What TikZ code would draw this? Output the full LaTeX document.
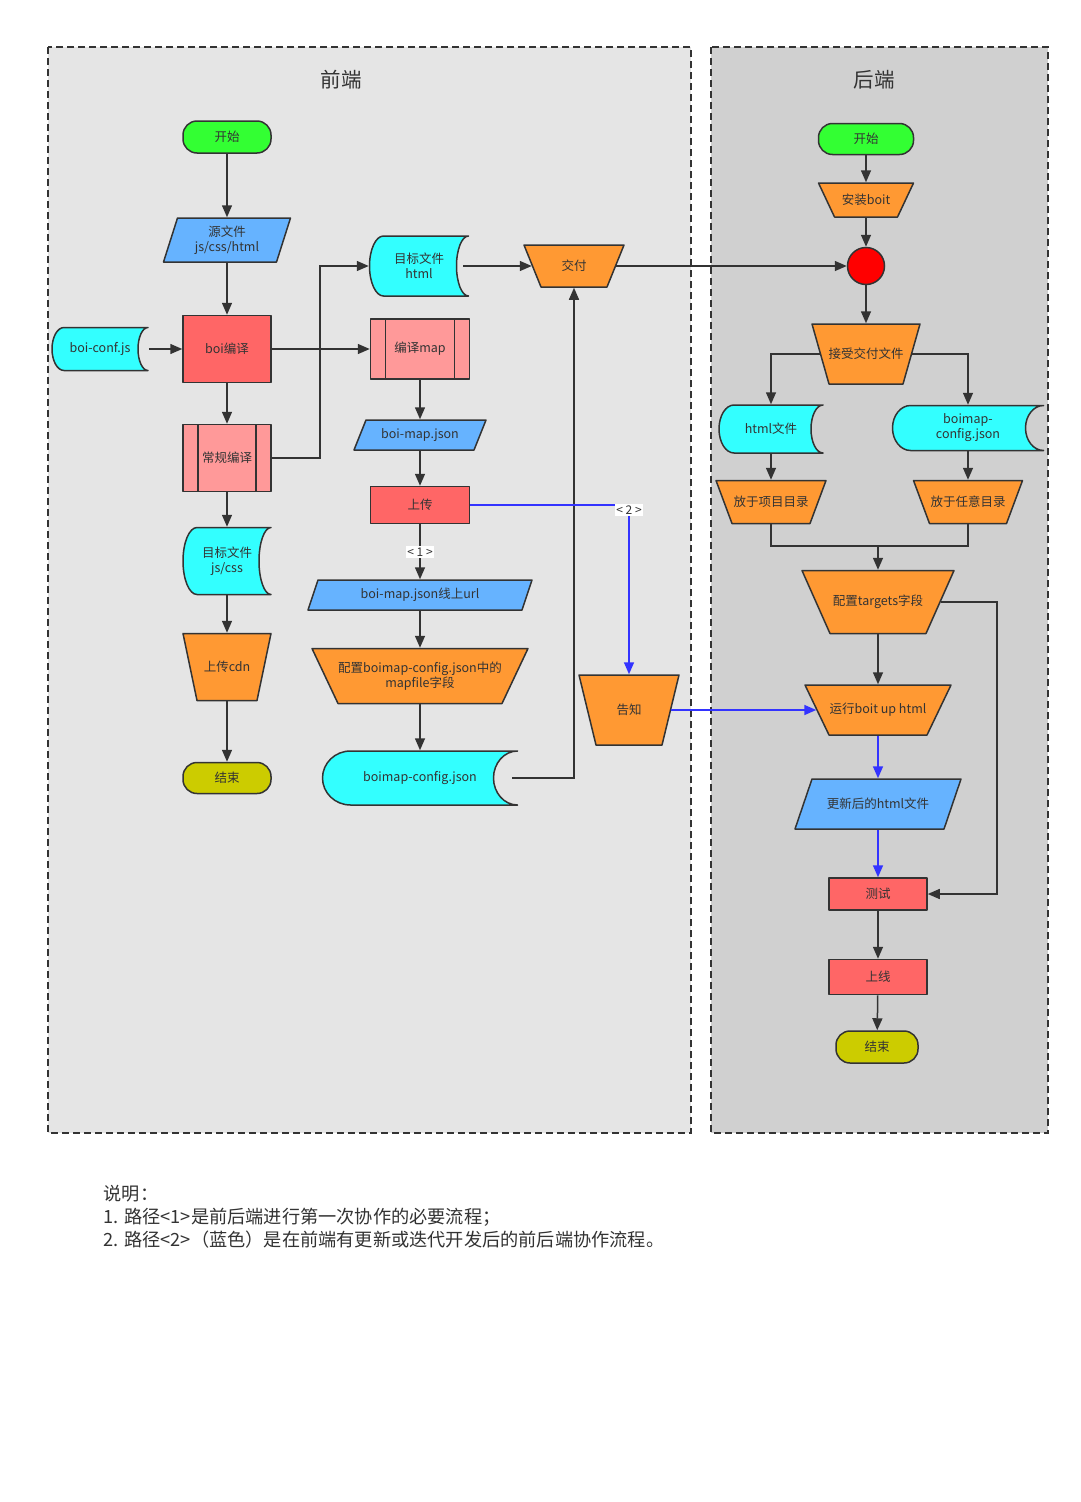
\documentclass[tikz,border=0pt]{standalone}
\usepackage{fontspec}
\setmainfont{Noto Sans CJK SC}
\usetikzlibrary{arrows.meta, calc}

\definecolor{linegray}{HTML}{333333}
\definecolor{frontbg}{HTML}{E5E5E5}
\definecolor{backbg}{HTML}{D0D0D0}
\definecolor{startgreen}{HTML}{33FF33}
\definecolor{endolive}{HTML}{CCCC00}
\definecolor{procred}{HTML}{FF6666}
\definecolor{predefpink}{HTML}{FF9999}
\definecolor{datacyan}{HTML}{33FFFF}
\definecolor{iofill}{HTML}{66B3FF}
\definecolor{oporange}{HTML}{FF9933}
\definecolor{pathblue}{HTML}{3333FF}

\newcommand{\nodefont}{\fontsize{12.5}{15}\selectfont}

\tikzset{
  boxline/.style={draw=linegray, line width=1.5pt, line join=round},
  shapetext/.style={inner sep=0pt, align=center, text=linegray, font=\nodefont},
  procbox/.style={boxline, shapetext, fill=procred},
  predefbox/.style={boxline, shapetext, fill=predefpink,
    path picture={
      \draw[linegray, line width=1.5pt]
        ([xshift=15pt]path picture bounding box.north west) -- ([xshift=15pt]path picture bounding box.south west)
        ([xshift=-15pt]path picture bounding box.north east) -- ([xshift=-15pt]path picture bounding box.south east);
    }},
  termbox/.style={boxline, shapetext, rounded corners=14pt},
  conn/.style={->, draw=linegray, line width=1.5pt},
  blueconn/.style={->, draw=pathblue, line width=1.6pt},
  pathtag/.style={fill=white, inner sep=1.5pt, text=linegray, font=\fontsize{12}{13}\selectfont},
  panelbox/.style={draw=linegray, line width=1.5pt, dash pattern=on 7pt off 4pt},
  paneltitle/.style={text=linegray, font=\fontsize{20.5}{24}\selectfont},
  notetext/.style={inner sep=0pt, align=left, text=linegray, font=\fontsize{18.2}{23}\selectfont}
}

% name, cx, cy, w, h, left radius, right radius, text
\newcommand{\storednode}[8]{%
  \draw[boxline, fill=datacyan]
    ({#2+#4/2},{#3-#5/2}) -- ({#2-#4/2+#6},{#3-#5/2})
    arc[start angle=90, end angle=270, x radius=#6pt, y radius={#5*0.5pt}]
    -- ({#2+#4/2},{#3+#5/2})
    arc[start angle=270, end angle=90, x radius=#7pt, y radius={#5*0.5pt}]
    -- cycle;
  \node[shapetext, minimum width=#4pt, minimum height=#5pt] (#1) at (#2,#3) {#8};
}
% name, cx, cy, w, h, inset, text
\newcommand{\trapnode}[7]{%
  \draw[boxline, fill=oporange]
    ({#2-#4/2},{#3-#5/2}) -- ({#2+#4/2},{#3-#5/2})
    -- ({#2+#4/2-#6},{#3+#5/2}) -- ({#2-#4/2+#6},{#3+#5/2}) -- cycle;
  \node[shapetext, minimum width={(#4-#6)*1pt}, minimum height=#5pt] (#1) at (#2,#3) {#7};
}
% name, cx, cy, w, h, slant, text
\newcommand{\paranode}[7]{%
  \draw[boxline, fill=iofill]
    ({#2-#4/2+#6},{#3-#5/2}) -- ({#2+#4/2},{#3-#5/2})
    -- ({#2+#4/2-#6},{#3+#5/2}) -- ({#2-#4/2},{#3+#5/2}) -- cycle;
  \node[shapetext, minimum width={(#4-#6)*1pt}, minimum height=#5pt] (#1) at (#2,#3) {#7};
}

\begin{document}
\begin{tikzpicture}[x=1pt, y=-1pt, >={Triangle[length=12pt, width=10pt]}, line width=1.5pt]
  \useasboundingbox[fill=white] (0,0) rectangle (1081,1502);

  % panels
  \draw[panelbox, fill=frontbg] (48,47) rectangle (691,1133);
  \draw[panelbox, fill=backbg] (711,47) rectangle (1048,1133);
  \node[paneltitle] (fronttitle) at (341,80) {前端};
  \node[paneltitle] (backtitle) at (874,80) {后端};

  % front end
  \node[termbox, fill=startgreen, minimum width=88pt, minimum height=32pt] (start1) at (227,137) {开始};
  \paranode{src}{227}{240}{127}{44}{14}{源文件\\js/css/html}
  \node[procbox, minimum width=88pt, minimum height=67pt] (compile) at (227,349) {boi编译};
  \storednode{conf}{100}{349}{96}{43}{12}{10}{boi-conf.js}
  \node[predefbox, minimum width=88pt, minimum height=67pt] (normal) at (227,458) {常规编译};
  \storednode{targetjs}{227}{561}{88}{67}{14}{12}{目标文件\\js/css}
  \trapnode{cdn}{227}{667}{88}{67}{14}{上传cdn}
  \node[termbox, fill=endolive, minimum width=88pt, minimum height=31pt] (end1) at (227,778) {结束};

  \storednode{targethtml}{419}{266}{99}{60}{14}{12}{目标文件\\html}
  \node[predefbox, minimum width=99pt, minimum height=60pt] (mapc) at (420,349) {编译map};
  \paranode{mapjson}{420}{435}{132}{30}{12}{boi-map.json}
  \node[procbox, minimum width=99pt, minimum height=37pt] (upload) at (420,505) {上传};
  \paranode{mapurl}{420}{595}{224}{30}{10}{boi-map.json线上url}
  \trapnode{cfgmap}{420}{676}{216}{55}{26}{配置boimap-config.json中的\\mapfile字段}
  \storednode{cfgjson}{420}{778}{195}{54}{28}{24}{boimap-config.json}
  \trapnode{deliver}{574}{266}{100}{42}{17}{交付}
  \trapnode{notify}{629}{710}{100}{70}{17}{告知}

  % back end
  \node[termbox, fill=startgreen, minimum width=95pt, minimum height=31pt] (start2) at (866,139) {开始};
  \trapnode{install}{866}{200}{95}{34}{16}{安装boit}
  \node[circle, boxline, fill=red, minimum size=37pt, inner sep=0pt] (dot) at (866,266) {};
  \trapnode{accept}{866}{354}{108}{60}{17}{接受交付文件}
  \storednode{htmlf}{771}{429}{104}{48}{15}{12}{html文件}
  \storednode{cfgb}{968}{428}{151}{45}{18}{18}{boimap-\\config.json}
  \trapnode{putproj}{771}{502}{110}{43}{16}{放于项目目录}
  \trapnode{putany}{968}{502}{109}{43}{16}{放于任意目录}
  \trapnode{targets}{878}{602}{152}{63}{28}{配置targets字段}
  \trapnode{run}{878}{710}{146}{50}{24}{运行boit up html}
  \paranode{updated}{878}{804}{166}{50}{17}{更新后的html文件}
  \node[procbox, minimum width=98pt, minimum height=32pt] (test) at (878,894) {测试};
  \node[procbox, minimum width=98pt, minimum height=35pt] (online) at (878,977) {上线};
  \node[termbox, fill=endolive, minimum width=82pt, minimum height=32pt] (end2) at (877,1047) {结束};

  \coordinate (fork) at (320,458);
  \coordinate (merge) at (878,546);
  \coordinate (bypass) at (997,602);

  % front connectors
  \draw[conn] (start1) -- (src);
  \draw[conn] (src) -- (compile);
  \draw[conn] (conf.east) -- (compile.west);
  \draw[conn] (compile) -- (normal);
  \draw[conn] (normal) -- (targetjs);
  \draw[conn] (targetjs) -- (cdn);
  \draw[conn] (cdn) -- (end1);
  \draw[conn] (compile.east) -- (mapc.west);
  \draw[conn] (normal.east) -- (fork) |- (targethtml.west);
  \draw[conn] ([xshift=-6pt]targethtml.east) -- (deliver.west);
  \draw[conn] (deliver.east) -- (dot.west);
  \draw[conn] (mapc) -- (mapjson);
  \draw[conn] (mapjson) -- (upload);
  \draw[conn] (upload) -- node[pathtag] {< 1 >} (mapurl);
  \draw[conn] (mapurl) -- (cfgmap);
  \draw[conn] (cfgmap) -- (cfgjson);
  \draw[conn] ([xshift=-6pt]cfgjson.east) -| (deliver.south);
  \draw[blueconn] (upload.east) -| node[pathtag, pos=0.5, yshift=-5pt] {< 2 >} (notify.north);
  \draw[blueconn] (notify.east) -- (run.west);

  % back connectors
  \draw[conn] (start2) -- (install);
  \draw[conn] (install) -- (dot);
  \draw[conn] (dot) -- (accept);
  \draw[conn] (accept.west) -| (htmlf.north);
  \draw[conn] (accept.east) -| (cfgb.north);
  \draw[conn] (htmlf) -- (putproj);
  \draw[conn] (cfgb) -- (putany);
  \draw[line width=1.5pt, linegray] (putproj.south) |- (merge) -| (putany.south);
  \draw[conn] (merge) -- (targets.north);
  \draw[conn] (targets.east) -- (bypass) |- (test.east);
  \draw[conn] (targets) -- (run);
  \draw[blueconn] (run) -- (updated);
  \draw[blueconn] (updated) -- (test);
  \draw[conn] (test) -- (online);
  \draw[conn] (online) -- (end2);

  % notes
  \node[notetext, anchor=north west] (notes) at (103,1184) {说明：\\1. 路径<1>是前后端进行第一次协作的必要流程；\\2. 路径<2>（蓝色）是在前端有更新或迭代开发后的前后端协作流程。};
\end{tikzpicture}
\end{document}
